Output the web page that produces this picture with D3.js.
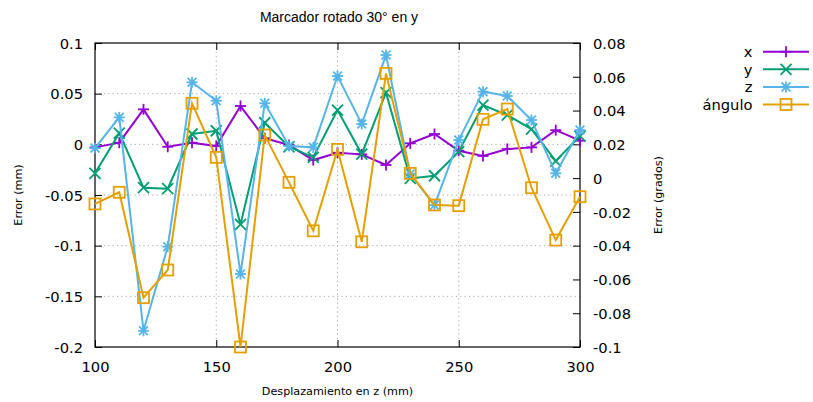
<!DOCTYPE html>
<html>
<head>
<meta charset="utf-8">
<script src="https://cdn.jsdelivr.net/npm/d3@7"></script>
<style>
  html, body { margin: 0; padding: 0; background: #fff; }
  svg { display: block; }
  .tick-label { font-family: "DejaVu Sans", sans-serif; font-size: 14.7px; fill: #000; }
  .axis-title { font-family: "DejaVu Sans", sans-serif; font-size: 11.2px; fill: #000; }
  .chart-title { font-family: "Liberation Sans", Arial, sans-serif; font-size: 14px; fill: #000; }
</style>
</head>
<body>
<svg id="chart" width="813" height="402"></svg>
<script>
// Displacement along z (mm)
const desplazamiento = [100, 110, 120, 130, 140, 150, 160, 170, 180, 190, 200,
                        210, 220, 230, 240, 250, 260, 270, 280, 290, 300];

// Position errors (mm), left axis
const errX = [-0.003, 0.0016, 0.0345, -0.0024, 0.0016, -0.0017, 0.0378, 0.006, -0.0007, -0.0155, -0.0083,
              -0.0099, -0.0204, 0.001, 0.0102, -0.0063, -0.0115, -0.0046, -0.003, 0.014, 0.0036];
const errY = [-0.0286, 0.011, -0.0428, -0.0438, 0.0102, 0.0134, -0.079, 0.0213, -0.0024, -0.0128, 0.0338,
              -0.0096, 0.051, -0.0336, -0.031, -0.0073, 0.0388, 0.0289, 0.0151, -0.0165, 0.0082];
const errZ = [-0.0037, 0.0266, -0.184, -0.101, 0.0612, 0.043, -0.128, 0.0405, -0.0017, -0.003, 0.0674,
              0.02, 0.0881, -0.0293, -0.06, 0.0042, 0.052, 0.0477, 0.024, -0.0286, 0.0141];

// Angle error (degrees), right axis
const errAngulo = [-0.0153, -0.0084, -0.0708, -0.0544, 0.0443, 0.0123, -0.1, 0.0255, -0.0025, -0.0312, 0.017,
                   -0.0377, 0.062, 0.0028, -0.0159, -0.0163, 0.0348, 0.0409, -0.0057, -0.0367, -0.011];

// Tick values
const xTicks = [100, 150, 200, 250, 300];
const yTicks = [-0.2, -0.15, -0.1, -0.05, 0, 0.05, 0.1];
const y2Ticks = [-0.1, -0.08, -0.06, -0.04, -0.02, 0, 0.02, 0.04, 0.06, 0.08];

const seriesNames = ["x", "y", "z", "ángulo"];
const seriesColors = ["#9400d3", "#009e73", "#56b4e9", "#e69f00"];
const seriesShapes = ["plus", "cross", "star", "square"];

const svg = d3.select("#chart");
const L = 95, R = 580, T = 43, B = 347;

const x = d3.scaleLinear().domain([100, 300]).range([L, R]);
const y = d3.scaleLinear().domain([-0.2, 0.1]).range([B, T]);
const y2 = d3.scaleLinear().domain([-0.1, 0.08]).range([B, T]);

// Grid (dotted)
const grid = svg.append("g").attr("stroke", "#a8a8a8").attr("stroke-width", 1)
  .attr("stroke-dasharray", "1.2,3.2");
xTicks.filter(v => v > 100 && v < 300).forEach(v => {
  grid.append("line").attr("x1", x(v)).attr("x2", x(v)).attr("y1", T).attr("y2", B);
});
yTicks.filter(v => v > -0.2 && v < 0.1).forEach(v => {
  grid.append("line").attr("x1", L).attr("x2", R).attr("y1", y(v)).attr("y2", y(v));
});

// Axes with inward ticks
const tickLen = 7;
const fmt = d3.format("");
const yAxis = svg.append("g").attr("transform", `translate(${L},0)`)
  .call(d3.axisLeft(y).tickValues(yTicks).tickSizeInner(-tickLen).tickSizeOuter(0)
    .tickPadding(12).tickFormat(d => String(+d.toFixed(2))));
const y2Axis = svg.append("g").attr("transform", `translate(${R},0)`)
  .call(d3.axisRight(y2).tickValues(y2Ticks).tickSizeInner(-tickLen).tickSizeOuter(0)
    .tickPadding(13).tickFormat(d => String(+d.toFixed(2))));
const xAxis = svg.append("g").attr("transform", `translate(0,${B})`)
  .call(d3.axisBottom(x).tickValues(xTicks).tickSizeInner(-tickLen).tickSizeOuter(0)
    .tickPadding(14).tickFormat(d3.format("d")));
const xTop = svg.append("g").attr("transform", `translate(0,${T})`)
  .call(d3.axisTop(x).tickValues(xTicks).tickSizeInner(-tickLen).tickSizeOuter(0).tickFormat(""));

[yAxis, y2Axis, xAxis, xTop].forEach(g => {
  g.select(".domain").remove();
  g.selectAll(".tick line").attr("stroke", "#000").attr("stroke-width", 1);
  g.selectAll(".tick text").attr("class", "tick-label").attr("font-size", null).attr("font-family", null);
});
yAxis.selectAll(".tick text").attr("dy", "0.36em");
y2Axis.selectAll(".tick text").attr("dy", "0.36em");
xAxis.selectAll(".tick text").attr("dy", "0.72em");

// Plot border
svg.append("rect").attr("x", L).attr("y", T).attr("width", R - L).attr("height", B - T)
  .attr("fill", "none").attr("stroke", "#000").attr("stroke-width", 1.2);

// Point marker drawing
const S = 5.5;
function marker(g, shape, cx, cy, color) {
  const m = g.append("g").attr("stroke", color).attr("stroke-width", 1.8).attr("fill", "none");
  const seg = (x1, y1, x2, y2_) => m.append("line").attr("x1", cx + x1).attr("y1", cy + y1)
    .attr("x2", cx + x2).attr("y2", cy + y2_);
  if (shape === "plus" || shape === "star") { seg(-S, 0, S, 0); seg(0, -S, 0, S); }
  if (shape === "cross" || shape === "star") {
    const d = shape === "star" ? S * 0.8 : S;
    seg(-d, -d, d, d); seg(-d, d, d, -d);
  }
  if (shape === "square") {
    m.append("rect").attr("x", cx - S).attr("y", cy - S).attr("width", 2 * S).attr("height", 2 * S);
  }
}

const seriesValues = [errX, errY, errZ, errAngulo];
const seriesScales = [y, y, y, y2];

const plot = svg.append("g");
seriesValues.forEach((vals, i) => {
  const ys = seriesScales[i];
  const line = d3.line().x((d, j) => x(desplazamiento[j])).y(d => ys(d));
  const g = plot.append("g");
  g.append("path").datum(vals).attr("d", line).attr("fill", "none")
    .attr("stroke", seriesColors[i]).attr("stroke-width", 2).attr("stroke-linejoin", "miter");
  vals.forEach((v, j) => marker(g, seriesShapes[i], x(desplazamiento[j]), ys(v), seriesColors[i]));
});

// Legend
const legend = svg.append("g");
seriesNames.forEach((name, i) => {
  const ly = 51.7 + i * 17.6;
  legend.append("text").attr("class", "tick-label").attr("x", 752.5).attr("y", ly)
    .attr("dy", "0.36em").attr("text-anchor", "end").text(name);
  legend.append("line").attr("x1", 763).attr("x2", 809).attr("y1", ly).attr("y2", ly)
    .attr("stroke", seriesColors[i]).attr("stroke-width", 2);
  marker(legend, seriesShapes[i], 786, ly, seriesColors[i]);
});

// Titles
svg.append("text").attr("class", "chart-title").attr("x", 339).attr("y", 22)
  .attr("text-anchor", "middle").text("Marcador rotado 30° en y");
svg.append("text").attr("class", "axis-title").attr("x", 337.5).attr("y", 395)
  .attr("text-anchor", "middle").text("Desplazamiento en z (mm)");
svg.append("text").attr("class", "axis-title")
  .attr("transform", "translate(22,195) rotate(-90)")
  .attr("text-anchor", "middle").text("Error (mm)");
svg.append("text").attr("class", "axis-title")
  .attr("transform", "translate(662,195) rotate(-90)")
  .attr("text-anchor", "middle").text("Error (grados)");
</script>
</body>
</html>
